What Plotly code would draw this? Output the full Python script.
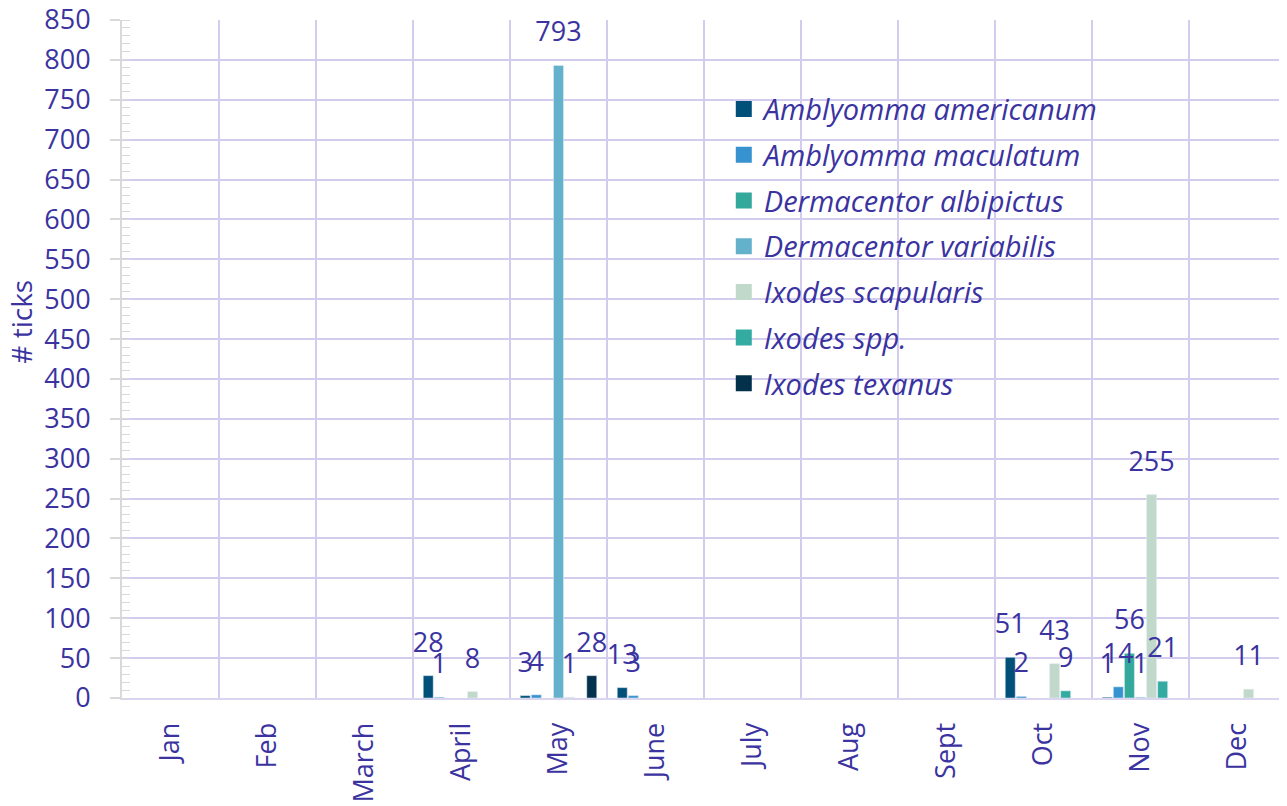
import plotly.graph_objects as go

months = ["Jan", "Feb", "March", "April", "May", "June", "July", "Aug", "Sept", "Oct", "Nov", "Dec"]

# tick counts per month (None = no record)
amblyomma_americanum = [None, None, None, 28, 3, 13, None, None, None, 51, 1, None]
amblyomma_maculatum = [None, None, None, 1, 4, 3, None, None, None, 2, 14, None]
dermacentor_albipictus = [None, None, None, None, None, None, None, None, None, None, 56, None]
dermacentor_variabilis = [None, None, None, None, 793, None, None, None, None, None, 1, None]
ixodes_scapularis = [None, None, None, 8, 1, None, None, None, None, 43, 255, 11]
ixodes_spp = [None, None, None, None, None, None, None, None, None, 9, 21, None]
ixodes_texanus = [None, None, None, None, 28, None, None, None, None, None, None, None]

series = [
    ("Amblyomma americanum", amblyomma_americanum, "#01507a"),
    ("Amblyomma maculatum", amblyomma_maculatum, "#3792d0"),
    ("Dermacentor albipictus", dermacentor_albipictus, "#33a99c"),
    ("Dermacentor variabilis", dermacentor_variabilis, "#64b1cb"),
    ("Ixodes scapularis", ixodes_scapularis, "#c1d9cb"),
    ("Ixodes spp.", ixodes_spp, "#34aba0"),
    ("Ixodes texanus", ixodes_texanus, "#03304a"),
]

text_color = "#3a33a0"
font_family = "Open Sans"

fig = go.Figure()
for name, vals, color in series:
    fig.add_trace(go.Bar(
        x=months, y=vals, name=name, marker_color=color,
        showlegend=False, offsetgroup=name,
    ))

# data labels (scatter text lined up with the bars, sits a bit above the bar top like Excel)
for name, vals, color in series:
    fig.add_trace(go.Scatter(
        x=months, y=vals, mode="text+markers", offsetgroup=name,
        marker=dict(size=26, opacity=0, color=color),
        text=[("" if v is None else str(v)) for v in vals],
        textposition="top center", cliponaxis=False,
        textfont=dict(size=27, color=text_color, family=font_family),
        showlegend=False, hoverinfo="skip",
    ))

# legend entries with bigger squares
for name, vals, color in series:
    fig.add_trace(go.Scatter(
        x=[None], y=[None], mode="markers", name=name,
        marker=dict(symbol="square", size=17, color=color),
        legendgroup=name,
    ))

# page body has an 8px margin, so margins are pulled in by 8
fig.update_layout(
    width=1287, height=806,
    margin=dict(l=114, r=9, t=12, b=116),
    paper_bgcolor="white", plot_bgcolor="white",
    barmode="group", bargap=0.2, bargroupgap=0.1,
    scattermode="group", scattergap=0.2,
    font=dict(family=font_family, color=text_color, size=27),
    showlegend=True,
    legend=dict(
        x=0.517, y=0.906, xanchor="left", yanchor="top",
        bgcolor="rgba(0,0,0,0)", itemsizing="trace",
        font=dict(size=29, color=text_color, family=font_family, style="italic"),
        tracegroupgap=5,
    ),
)

fig.update_xaxes(
    type="category", tickson="boundaries", tickangle=-90, automargin=False,
    showgrid=True, gridcolor="#d3ccef", gridwidth=2,
    showline=True, linecolor="#d9d4ef", linewidth=2,
    ticks="", ticklabelstandoff=12, tickfont=dict(size=27, color=text_color),
)

fig.update_yaxes(
    range=[0, 850], dtick=50, tick0=0, automargin=False,
    showgrid=True, gridcolor="#d3ccef", gridwidth=2,
    showline=True, linecolor="#d9d9d9", linewidth=2,
    ticks="outside", ticklen=10, tickcolor="#d9d9d9", tickwidth=2,
    minor=dict(dtick=10, ticks="inside", ticklen=8, tickcolor="#d9d9d9", tickwidth=1, showgrid=False),
    ticklabelstandoff=14, ticklabeloverflow="allow",
    tickfont=dict(size=27, color=text_color),
    zeroline=False,
)

fig.add_annotation(
    text="# ticks", xref="paper", yref="paper", x=-0.0868, y=0.555,
    xanchor="center", yanchor="middle", textangle=-90, showarrow=False,
    font=dict(size=28, color=text_color, family=font_family),
)

fig.write_html("out.html")
